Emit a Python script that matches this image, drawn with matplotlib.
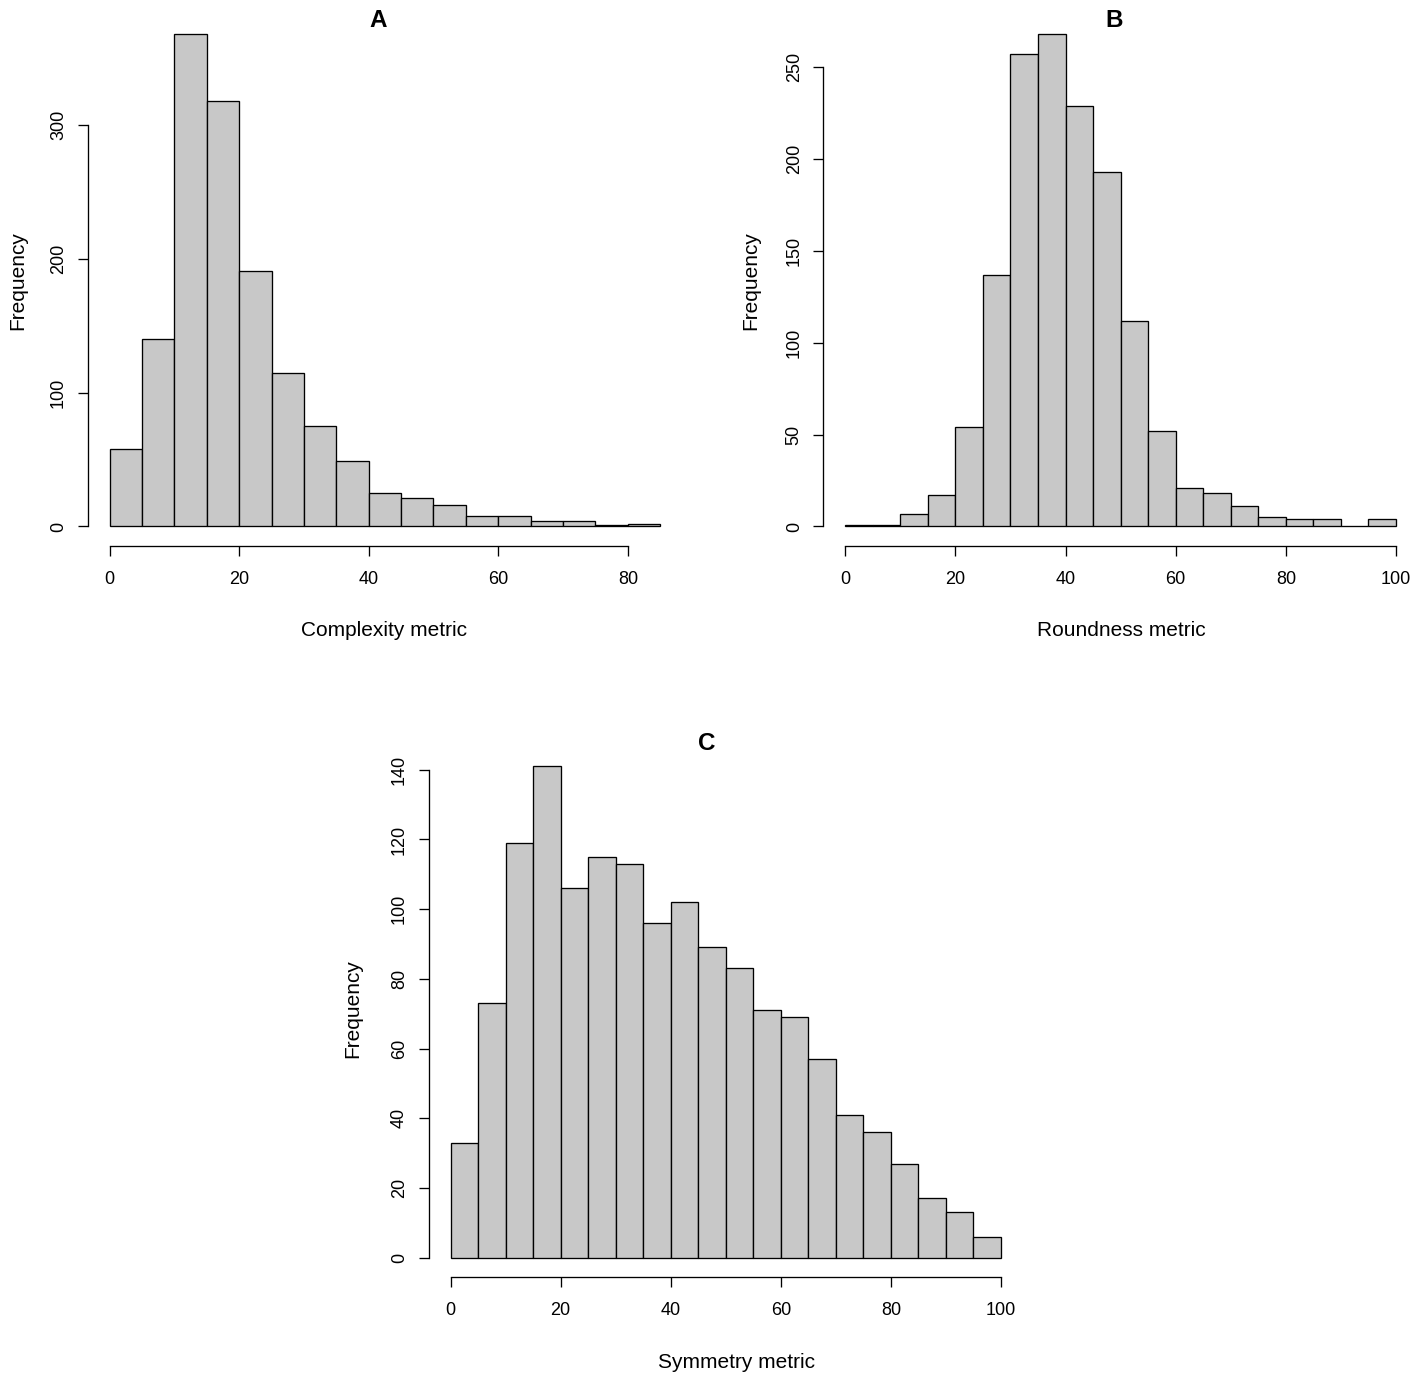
import matplotlib
matplotlib.use("Agg")
import matplotlib.pyplot as plt
import numpy as np

plt.rcParams['font.family'] = ['Liberation Sans', 'DejaVu Sans']

# ---------------- data ----------------
bin_width = 5
complexity_edges = list(range(0, 90, 5))          # 0..85
complexity_counts = [58, 140, 368, 318, 191, 115, 75, 49, 25, 21, 16, 8, 8, 4, 4, 1, 2]
complexity_xticks = [0, 20, 40, 60, 80]
complexity_yticks = [0, 100, 200, 300]

roundness_edges = list(range(0, 105, 5))          # 0..100
roundness_counts = [1, 1, 7, 17, 54, 137, 257, 268, 229, 193, 112, 52, 21, 18, 11, 5, 4, 4, 0, 4]
roundness_xticks = [0, 20, 40, 60, 80, 100]
roundness_yticks = [0, 50, 100, 150, 200, 250]

symmetry_edges = list(range(0, 105, 5))           # 0..100
symmetry_counts = [33, 73, 119, 141, 106, 115, 113, 96, 102, 89, 83, 71, 69, 57, 41, 36, 27, 17, 13, 6]
symmetry_xticks = [0, 20, 40, 60, 80, 100]
symmetry_yticks = [0, 20, 40, 60, 80, 100, 120, 140]

titles = ["A", "B", "C"]
xlabels = ["Complexity metric", "Roundness metric", "Symmetry metric"]
ylabel = "Frequency"

# ---------------- layout ----------------
W, H = 1417, 1382
fig = plt.figure(figsize=(W / 100, H / 100), dpi=100)
fig.patch.set_facecolor("white")


def rect(left, top, right, bottom):
    return [left / W, 1 - bottom / H, (right - left) / W, (bottom - top) / H]


def ftext(x, y, s, **kw):
    fig.text(x / W, 1 - y / H, s, **kw)


BAR_COLOR = "#c8c8c8"
LW = 0.95


def r_hist(ax, edges, counts, xticks, yticks):
    edges = np.asarray(edges, dtype=float)
    ax.bar(edges[:-1], counts, width=bin_width, align="edge",
           color=BAR_COLOR, edgecolor="black", linewidth=LW)
    xr = edges[-1] - edges[0]
    ymax = max(counts)
    ax.set_xlim(edges[0] - 0.04 * xr, edges[-1] + 0.04 * xr)
    ax.set_ylim(-0.04 * ymax, 1.04 * ymax)
    for s in ["top", "right"]:
        ax.spines[s].set_visible(False)
    ax.spines["left"].set_bounds(yticks[0], yticks[-1])
    ax.spines["bottom"].set_bounds(xticks[0], xticks[-1])
    for s in ["left", "bottom"]:
        ax.spines[s].set_linewidth(LW)
    ax.set_xticks(xticks)
    ax.set_yticks(yticks)
    ax.set_xticklabels([str(t) for t in xticks])
    ax.set_yticklabels([str(t) for t in yticks], rotation=90, va="center")
    ax.tick_params(axis="both", direction="out", length=7.2, width=LW,
                   labelsize=13, colors="black")
    ax.tick_params(axis="x", pad=10.5)
    ax.tick_params(axis="y", pad=7.5)
    ax.set_facecolor("none")


axA = fig.add_axes(rect(87.5, 14.2, 682.3, 546.2))
r_hist(axA, complexity_edges, complexity_counts, complexity_xticks, complexity_yticks)

axB = fig.add_axes(rect(823.2, 14.2, 1418.0, 546.2))
r_hist(axB, roundness_edges, roundness_counts, roundness_xticks, roundness_yticks)

axC = fig.add_axes(rect(428.5, 746.6, 1023.0, 1277.3))
r_hist(axC, symmetry_edges, symmetry_counts, symmetry_xticks, symmetry_yticks)

# titles
ftext(378.6, 27.4, titles[0], ha="center", va="baseline", fontsize=17.5, fontweight="bold")
ftext(1113.8, 27.4, titles[1], ha="center", va="baseline", fontsize=17.5, fontweight="bold")
ftext(706.5, 749.5, titles[2], ha="center", va="baseline", fontsize=17.5, fontweight="bold")

# x labels
ftext(384.2, 635.7, xlabels[0], ha="center", va="baseline", fontsize=15)
ftext(1121.4, 635.7, xlabels[1], ha="center", va="baseline", fontsize=15)
ftext(736.3, 1368.1, xlabels[2], ha="center", va="baseline", fontsize=15)

# y labels
ftext(17.9, 281, ylabel, ha="center", va="center", rotation=90, fontsize=15)
ftext(751.0, 281, ylabel, ha="center", va="center", rotation=90, fontsize=15)
ftext(353.0, 1009, ylabel, ha="center", va="center", rotation=90, fontsize=15)

fig.savefig("out.png", dpi=100, facecolor="white")
